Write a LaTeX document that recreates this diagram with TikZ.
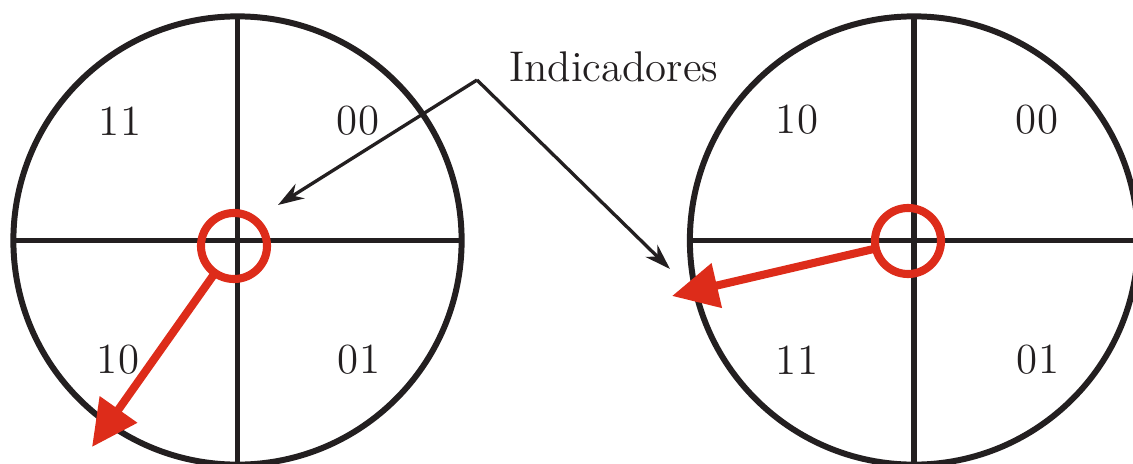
\documentclass[tikz,border=0pt]{standalone}
\usepackage{tikz}
\usetikzlibrary{arrows.meta}
\definecolor{InkBlack}{RGB}{35,31,32}
\definecolor{PtrRed}{RGB}{221,44,26}

\begin{document}
\begin{tikzpicture}[x=0.01cm,y=-0.01cm,
    dial/.style={circle,draw=InkBlack,line width=1.7pt,minimum size=4.48cm,
                 inner sep=0pt,outer sep=0pt},
    hub/.style={circle,draw=PtrRed,line width=2.3pt,minimum size=0.66cm,
                inner sep=0pt,outer sep=0pt},
    dialline/.style={InkBlack,line width=1.6pt},
    needle/.style={-{Triangle[length=0.46cm,width=0.44cm]},PtrRed,line width=2.3pt},
    pointer/.style={-{Stealth[length=0.26cm,width=0.17cm]},InkBlack,line width=0.95pt},
    code/.style={font=\fontsize{12.2}{14}\selectfont,text=InkBlack}]

    \useasboundingbox (0,0) rectangle (1133,464);

    % Dials
    \node[dial] (dialL) at (237.5,240.5) {};
    \node[dial] (dialR) at (914,240.5) {};
    \foreach \d in {dialL,dialR}{
      \draw[dialline] (\d.north) -- (\d.south);
      \draw[dialline] (\d.west) -- (\d.east);
    }

    % Quadrant codes
    \foreach \txt/\px/\py [count=\i] in {11/120/121, 00/358/121, 10/118/360, 01/359/360,
                                         10/797/120, 00/1037/120, 11/797/360, 01/1038/360}
      \node[code] (code\i) at (\px,\py) {\txt};

    % Pointers
    \node[hub] (hubL) at (234,246) {};
    \node[hub] (hubR) at (908,241) {};
    \coordinate (tipL) at (92,447);
    \coordinate (tipR) at (672,296);
    \draw[needle] (hubL) -- (tipL);
    \draw[needle] (hubR) -- (tipR);

    % Label
    \node[code] (indic) at (614,67) {Indicadores};
    \coordinate (apex) at (477,80);
    \coordinate (aimL) at (278,205);
    \coordinate (aimR) at (670,269);
    \draw[pointer] (apex) -- (aimL);
    \draw[pointer] (apex) -- (aimR);
  \end{tikzpicture}
\end{document}
